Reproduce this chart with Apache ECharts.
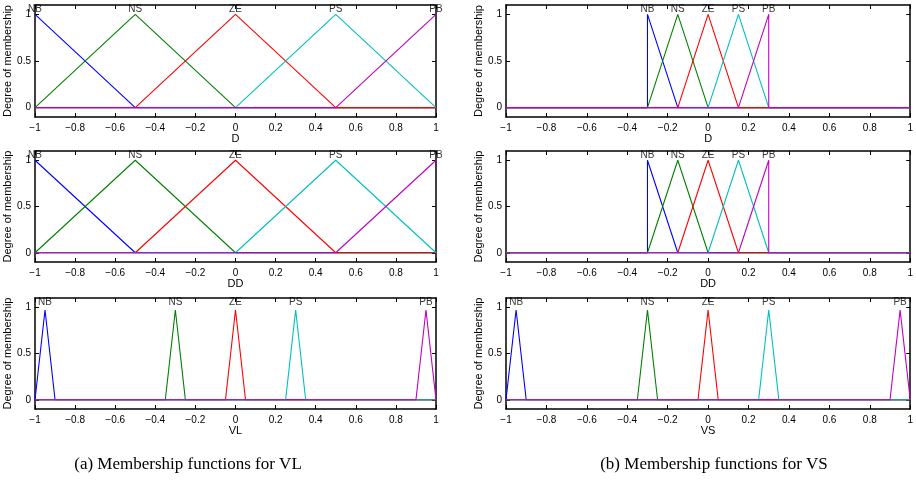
<!DOCTYPE html>
<html>
<head>
<meta charset="utf-8">
<script src="https://cdn.jsdelivr.net/npm/echarts@6/dist/echarts.min.js"></script>
<style>
  html, body { margin: 0; padding: 0; background: #fff; }
  #chart { width: 916px; height: 481px; }
</style>
</head>
<body>
<div id="chart"></div>
<script>
// Linguistic terms, shared by every panel
const termNames = ['NB', 'NS', 'ZE', 'PS', 'PB'];
const termColors = ['#0000ff', '#008000', '#ff0000', '#00bfbf', '#bf00bf'];

// Triangular membership functions: [left foot, peak, right foot]
const wideTerms = [[-1, -1, -0.5], [-1, -0.5, 0], [-0.5, 0, 0.5], [0, 0.5, 1], [0.5, 1, 1]];
const narrowTerms = [[-0.3, -0.3, -0.15], [-0.3, -0.15, 0], [-0.15, 0, 0.15], [0, 0.15, 0.3], [0.15, 0.3, 0.3]];
const spikeTerms = [[-1, -0.95, -0.9], [-0.35, -0.3, -0.25], [-0.05, 0, 0.05], [0.25, 0.3, 0.35], [0.9, 0.95, 1]];

// Peak heights of each family
const widePeak = 1;
const narrowPeak = 1;
const spikePeak = 0.97;

// Universe of discourse and tick labels
const xRange = [-1, 1];
const xTickStep = 0.2;
const yTickValues = [0, 0.5, 1];
const yLabel = 'Degree of membership';

// Panels: variable name, term set, peak height
const panels = [
  { name: 'D',  terms: wideTerms,   peak: widePeak,   col: 0, row: 0 },
  { name: 'DD', terms: wideTerms,   peak: widePeak,   col: 0, row: 1 },
  { name: 'VL', terms: spikeTerms,  peak: spikePeak,  col: 0, row: 2 },
  { name: 'D',  terms: narrowTerms, peak: narrowPeak, col: 1, row: 0 },
  { name: 'DD', terms: narrowTerms, peak: narrowPeak, col: 1, row: 1 },
  { name: 'VS', terms: spikeTerms,  peak: spikePeak,  col: 1, row: 2 }
];

const captions = ['(a) Membership functions for VL', '(b) Membership functions for VS'];

// Layout of the subplot boxes
const colBoxes = [{ left: 35, width: 401 }, { left: 506, width: 406 }];
const rowBoxes = [{ top: 5, height: 112 }, { top: 151, height: 111 }, { top: 298, height: 111 }];
const captionX = [188, 714];
const captionY = 465;

const font = 'Liberation Sans, Arial, sans-serif';

// Polyline of a triangular MF over the whole universe
function mfPoints(tri, h) {
  const [a, b, c] = tri;
  const [xmin, xmax] = xRange;
  const pts = [];
  if (a > xmin) pts.push([xmin, 0]);
  if (a < b || a > xmin) pts.push([a, 0]);
  pts.push([b, h]);
  if (c > b || c < xmax) pts.push([c, 0]);
  if (c < xmax) pts.push([xmax, 0]);
  return pts;
}

function fmtTick(v) {
  const r = Math.round(v * 10) / 10;
  return (r < 0 ? '\u2212' : '') + String(Math.abs(r));
}

const grids = [], xAxes = [], yAxes = [], series = [];
const frame = { show: true, onZero: false, lineStyle: { color: '#000', width: 1.5 } };
const tick = { show: true, inside: true, length: 4, lineStyle: { color: '#000', width: 1 } };

panels.forEach((p, i) => {
  const cb = colBoxes[p.col], rb = rowBoxes[p.row];
  grids.push({ left: cb.left, width: cb.width, top: rb.top, height: rb.height, containLabel: false });

  // bottom axis with labels, top axis for the frame and inner ticks
  xAxes.push({
    gridIndex: i, type: 'value', min: xRange[0], max: xRange[1], interval: xTickStep,
    position: 'bottom', name: p.name, nameLocation: 'middle', nameGap: 16,
    nameTextStyle: { fontFamily: font, fontSize: 11, color: '#000' },
    axisLine: frame, axisTick: tick, splitLine: { show: false },
    axisLabel: { fontFamily: font, fontSize: 10, color: '#000', margin: 6, formatter: fmtTick }
  });
  xAxes.push({
    gridIndex: i, type: 'value', min: xRange[0], max: xRange[1], interval: xTickStep,
    position: 'top', axisLine: frame, axisTick: tick, axisLabel: { show: false }, splitLine: { show: false }
  });
  yAxes.push({
    gridIndex: i, type: 'value', min: -0.1, max: 1.1, position: 'left',
    name: yLabel, nameLocation: 'middle', nameGap: 20,
    nameTextStyle: { fontFamily: font, fontSize: 11, color: '#000' },
    axisLine: frame, splitLine: { show: false },
    axisTick: Object.assign({ customValues: yTickValues }, tick),
    axisLabel: { customValues: yTickValues, fontFamily: font, fontSize: 10, color: '#000', margin: 4, formatter: v => String(v) }
  });
  yAxes.push({
    gridIndex: i, type: 'value', min: -0.1, max: 1.1, position: 'right',
    axisLine: frame, splitLine: { show: false },
    axisTick: Object.assign({ customValues: yTickValues }, tick),
    axisLabel: { show: false }
  });

  p.terms.forEach((tri, k) => {
    series.push({
      type: 'line', xAxisIndex: 2 * i, yAxisIndex: 2 * i,
      data: mfPoints(tri, p.peak), showSymbol: false, symbol: 'none',
      lineStyle: { color: termColors[k], width: 1.1 }, silent: true
    });
  });

  // term names above each peak
  series.push({
    type: 'scatter', xAxisIndex: 2 * i, yAxisIndex: 2 * i, symbolSize: 0,
    data: p.terms.map((tri, k) => [tri[1], 1, termNames[k]]),
    label: {
      show: true, position: 'top', distance: 0, formatter: d => d.data[2],
      fontFamily: font, fontSize: 10, color: '#000'
    },
    silent: true
  });
});

const chart = echarts.init(document.getElementById('chart'), null, { renderer: 'canvas' });
chart.setOption({
  animation: false,
  backgroundColor: '#fff',
  grid: grids, xAxis: xAxes, yAxis: yAxes, series: series,
  graphic: captions.map((t, j) => ({
    type: 'text', x: captionX[j], y: captionY,
    style: { text: t, fontFamily: 'Liberation Serif, DejaVu Serif, serif', fontSize: 17, fill: '#000', align: 'center', verticalAlign: 'middle' }
  }))
});
</script>
</body>
</html>
